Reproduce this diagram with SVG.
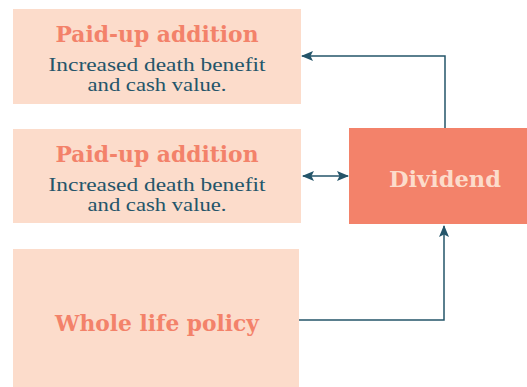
<svg xmlns="http://www.w3.org/2000/svg" width="527" height="387" viewBox="0 0 527 387">
  <defs>
    <marker id="arrow" viewBox="0 0 12 10" refX="11" refY="5" markerWidth="12" markerHeight="10" orient="auto-start-reverse" markerUnits="userSpaceOnUse">
      <path d="M0,0 L12,5 L0,10 L2.5,5 z" fill="#24556a"/>
    </marker>
    <style>
      .box { fill: #fcdccb; }
      .title { font-family: "DejaVu Serif", "Liberation Serif", serif; font-weight: bold; fill: #f3826a; text-anchor: middle; }
      .body { font-family: "Liberation Serif", serif; fill: #24556a; text-anchor: middle; font-size: 19px; }
      .edge { fill: none; stroke: #24556a; stroke-width: 1.5; }
    </style>
  </defs>
  <rect width="527" height="387" fill="#ffffff"/>

  <g id="paidup1">
    <rect class="box" x="13" y="9" width="288" height="95"/>
    <text class="title" x="157" y="42" font-size="22" textLength="203" lengthAdjust="spacingAndGlyphs">Paid-up addition</text>
    <text class="body" x="157" y="71" textLength="217" lengthAdjust="spacingAndGlyphs">Increased death benefit</text>
    <text class="body" x="157" y="91" textLength="139" lengthAdjust="spacingAndGlyphs">and cash value.</text>
  </g>

  <g id="paidup2">
    <rect class="box" x="13" y="129" width="288" height="94"/>
    <text class="title" x="157" y="162" font-size="22" textLength="203" lengthAdjust="spacingAndGlyphs">Paid-up addition</text>
    <text class="body" x="157" y="191" textLength="217" lengthAdjust="spacingAndGlyphs">Increased death benefit</text>
    <text class="body" x="157" y="211" textLength="139" lengthAdjust="spacingAndGlyphs">and cash value.</text>
  </g>

  <g id="wholelife">
    <rect class="box" x="13" y="249" width="286" height="138"/>
    <text class="title" x="157" y="331" font-size="22" textLength="204" lengthAdjust="spacingAndGlyphs">Whole life policy</text>
  </g>

  <g id="dividend">
    <rect x="349" y="128" width="178" height="96" fill="#f3826a"/>
    <text class="title" x="445" y="187" font-size="22" textLength="112" lengthAdjust="spacingAndGlyphs" style="fill:#fcdccb">Dividend</text>
  </g>

  <g id="connectors">
    <path class="edge" d="M445,128 V56 H302" marker-end="url(#arrow)"/>
    <path class="edge" d="M303,176 H348" marker-start="url(#arrow)" marker-end="url(#arrow)"/>
    <path class="edge" d="M299,320 H444 V226" marker-end="url(#arrow)"/>
  </g>
</svg>
